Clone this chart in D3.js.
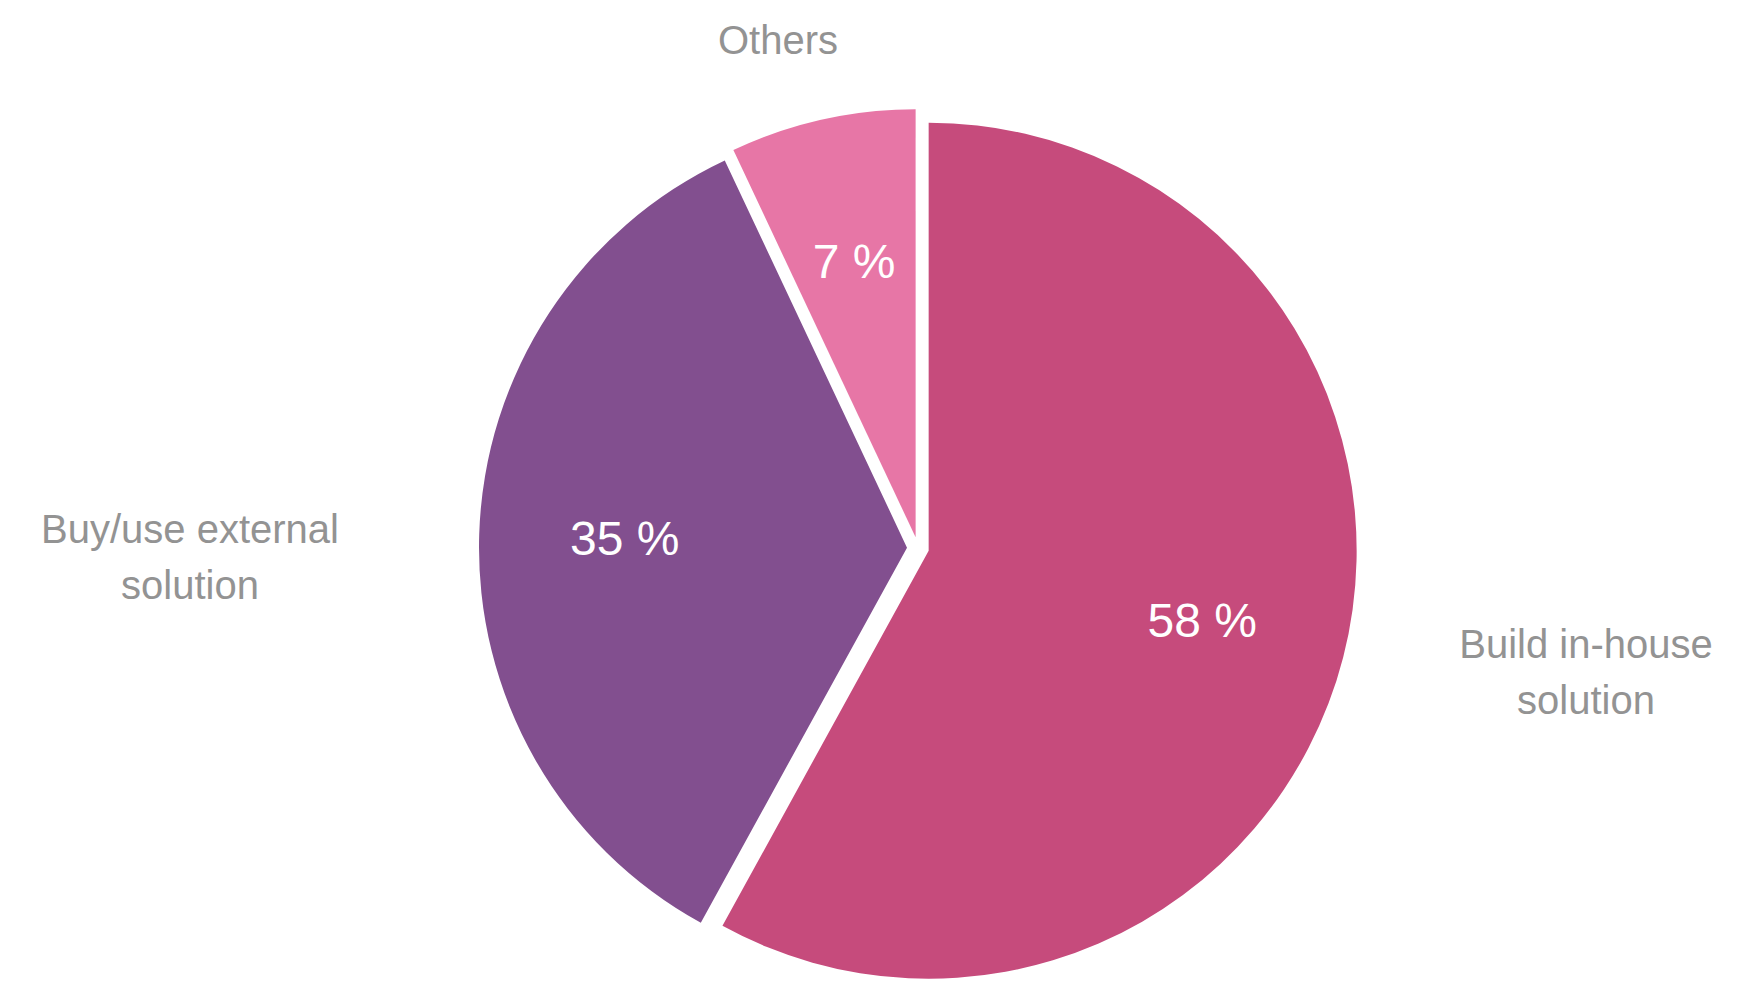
<!DOCTYPE html>
<html lang="en">
<head>
<meta charset="UTF-8">
<style>
  body { margin: 0; background: #fff; }
  svg text { font-family: 'Liberation Sans', Arial, sans-serif; }
</style>
</head>
<body>
<svg id="chart" width="1748" height="996"></svg>
<script src="https://d3js.org/d3.v7.min.js"></script>
<script>
// data
const categories = ['Build in-house solution', 'Buy/use external solution', 'Others'];
const labelLines = [['Build in-house', 'solution'], ['Buy/use external', 'solution'], ['Others']];
const values = [58, 35, 7];
const colors = ['#c64b7c', '#824f8f', '#e776a6'];

const svg = d3.select('#chart');
const cx = 918, cy = 548, R = 428, explode = 11;

const pie = d3.pie().sort(null).value(d => d)(values);
const arc = d3.arc().innerRadius(0).outerRadius(R);

const g = svg.append('g').attr('transform', `translate(${cx},${cy})`);

pie.forEach((p, i) => {
  const mid = (p.startAngle + p.endAngle) / 2;
  const dx = Math.sin(mid) * explode, dy = -Math.cos(mid) * explode;
  const sg = g.append('g').attr('transform', `translate(${dx},${dy})`);
  sg.append('path').attr('d', arc(p)).attr('fill', colors[i]);
  const lr = R * 0.66;
  sg.append('text')
    .attr('x', Math.sin(mid) * lr)
    .attr('y', -Math.cos(mid) * lr)
    .attr('text-anchor', 'middle')
    .attr('dominant-baseline', 'central')
    .attr('fill', '#fff')
    .attr('font-size', 48)
    .text(values[i] + ' %');
});

// category labels outside the pie
pie.forEach((p, i) => {
  const mid = (p.startAngle + p.endAngle) / 2;
  let x, y;
  if (i === 2) { x = cx - 140; y = cy - R - 66; }
  else {
    const side = Math.sin(mid) > 0 ? 1 : -1;
    x = cx + side * (R + (side > 0 ? 240 : 300));
    y = cy + (side > 0 ? 110 : -5);
  }
  const t = svg.append('text')
    .attr('text-anchor', 'middle')
    .attr('fill', '#939393')
    .attr('font-size', 40);
  labelLines[i].forEach((ln, k) => {
    t.append('tspan').attr('x', x).attr('y', y + k * 56).text(ln);
  });
});
</script>
</body>
</html>
